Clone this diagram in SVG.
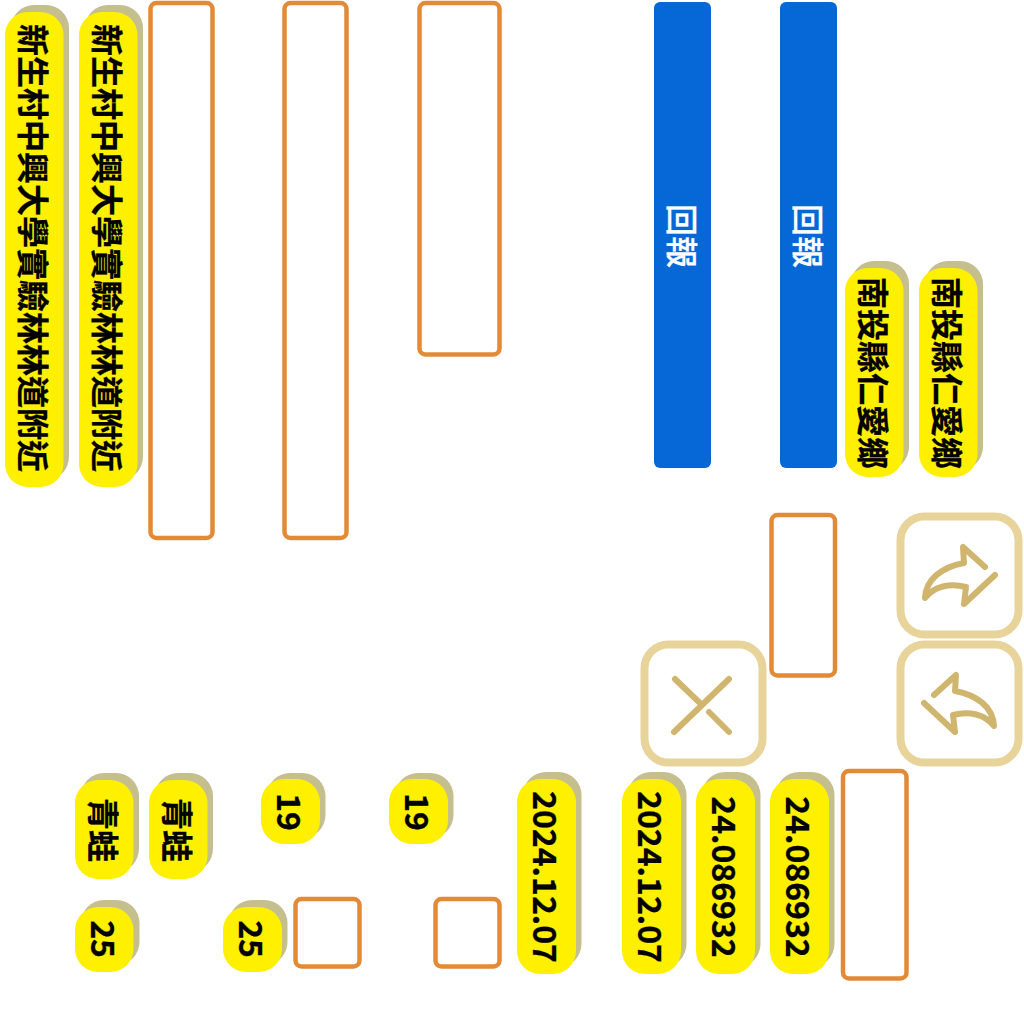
<svg xmlns="http://www.w3.org/2000/svg" width="1024" height="1024" viewBox="0 0 1024 1024">
<style>
.sh{fill:#c5bf8e}
.y{fill:#fff000}
.o{fill:#fff;stroke:#e38a36;stroke-width:4.500}
.b{fill:#0667d6}
.f{fill:#fff;stroke:#e8d49a;stroke-width:8}
.i{fill:none;stroke:#d0b56e;stroke-width:6;stroke-linecap:round;stroke-linejoin:round}
text{font-family:"Noto Sans CJK TC","Noto Sans CJK SC",sans-serif;font-size:32px;text-anchor:middle;dominant-baseline:central}
.t{font-weight:700;fill:#000;stroke:#000;stroke-width:.3}
.w{font-weight:500;fill:#fff;stroke:#fff;stroke-width:.3}
</style>
<rect width="1024" height="1024" fill="#fff"/>
<g id="pill-1"><rect class="sh" x="11" y="5" width="58" height="475" rx="23"/><rect class="y" x="5" y="12" width="58.500" height="475" rx="23"/><text class="t" transform="translate(35 248) rotate(90)">新生村中興大學實驗林林道附近</text></g>
<g id="pill-2"><rect class="sh" x="85" y="5" width="58" height="475" rx="23"/><rect class="y" x="79" y="12" width="58.500" height="475" rx="23"/><text class="t" transform="translate(109 248) rotate(90)">新生村中興大學實驗林林道附近</text></g>
<g id="box-1"><rect class="o" x="150.500" y="3" width="62" height="535" rx="6"/></g>
<g id="box-2"><rect class="o" x="284.500" y="3" width="62" height="535" rx="6"/></g>
<g id="box-3"><rect class="o" x="419.500" y="3" width="80" height="351.500" rx="6"/></g>
<g id="blue-1"><rect class="b" x="654" y="2" width="57" height="466" rx="6"/><text class="w" transform="translate(684 236) rotate(90)">回報</text></g>
<g id="blue-2"><rect class="b" x="780" y="2" width="57" height="466" rx="6"/><text class="w" transform="translate(810 236) rotate(90)">回報</text></g>
<g id="pill-3"><rect class="sh" x="851" y="261" width="58" height="209" rx="23"/><rect class="y" x="845" y="268" width="58.500" height="209" rx="23"/><text class="t" transform="translate(875 373) rotate(90)">南投縣仁愛鄉</text></g>
<g id="pill-4"><rect class="sh" x="925" y="261" width="58" height="209" rx="23"/><rect class="y" x="919" y="268" width="58.500" height="209" rx="23"/><text class="t" transform="translate(949 373) rotate(90)">南投縣仁愛鄉</text></g>
<g id="box-4"><rect class="o" x="771.500" y="515" width="63.500" height="160.500" rx="6"/></g>
<g id="btn-forward"><rect class="f" x="900.500" y="516.500" width="118" height="118" rx="24"/><path class="i" d="M985 567L963 547L964 563C942 567 926 579 925 598C934 586 950 583 966 587L964 604L995 575"/></g>
<g id="btn-back"><rect class="f" x="900.500" y="644.500" width="118" height="118" rx="24"/><path class="i" d="M934 695L956 675L955 691C977 695 993 707 994 726C985 714 969 711 953 715L955 732L924 703"/></g>
<g id="btn-close"><rect class="f" x="644.500" y="644.500" width="118" height="118" rx="24"/><path class="i" d="M729 679L674 732M675 679L702 705M709 712L729 732"/></g>
<g id="pill-5"><rect class="sh" x="81" y="773" width="58" height="99" rx="23"/><rect class="y" x="75" y="780" width="58.500" height="99" rx="23"/><text class="t" transform="translate(105 830) rotate(90)">青蛙</text></g>
<g id="pill-6"><rect class="sh" x="155" y="773" width="58" height="99" rx="23"/><rect class="y" x="149" y="780" width="58.500" height="99" rx="23"/><text class="t" transform="translate(179 830) rotate(90)">青蛙</text></g>
<g id="pill-7"><rect class="sh" x="267" y="773" width="58.500" height="65" rx="23"/><rect class="y" x="261" y="779" width="59" height="65" rx="23"/><text class="t" transform="translate(291 812) rotate(90)">19</text></g>
<g id="pill-8"><rect class="sh" x="395" y="773" width="58.500" height="65" rx="23"/><rect class="y" x="389" y="779" width="59" height="65" rx="23"/><text class="t" transform="translate(419 812) rotate(90)">19</text></g>
<g id="pill-9"><rect class="sh" x="523" y="772" width="58.500" height="195" rx="23"/><rect class="y" x="517" y="779" width="59" height="195" rx="23"/><text class="t" transform="translate(547 877) rotate(90)">2024.12.07</text></g>
<g id="pill-10"><rect class="sh" x="628" y="772" width="58.500" height="195" rx="23"/><rect class="y" x="622" y="779" width="59" height="195" rx="23"/><text class="t" transform="translate(652 877) rotate(90)">2024.12.07</text></g>
<g id="pill-11"><rect class="sh" x="702" y="772" width="58.500" height="195" rx="23"/><rect class="y" x="696" y="779" width="59" height="195" rx="23"/><text class="t" transform="translate(726 877) rotate(90)">24.086932</text></g>
<g id="pill-12"><rect class="sh" x="776" y="772" width="58.500" height="195" rx="23"/><rect class="y" x="770" y="779" width="59" height="195" rx="23"/><text class="t" transform="translate(800 877) rotate(90)">24.086932</text></g>
<g id="box-5"><rect class="o" x="843" y="771" width="63.500" height="207.500" rx="6"/></g>
<g id="pill-13"><rect class="sh" x="81" y="900" width="58.500" height="65" rx="23"/><rect class="y" x="75" y="907" width="58.500" height="65" rx="23"/><text class="t" transform="translate(105 939) rotate(90)">25</text></g>
<g id="pill-14"><rect class="sh" x="229" y="900" width="58.500" height="65" rx="23"/><rect class="y" x="223" y="907" width="59" height="65" rx="23"/><text class="t" transform="translate(253 939) rotate(90)">25</text></g>
<g id="box-6"><rect class="o" x="295.500" y="899" width="64" height="67.500" rx="6"/></g>
<g id="box-7"><rect class="o" x="435.500" y="899" width="64" height="67.500" rx="6"/></g>
<g id="connectors"></g>
</svg>
